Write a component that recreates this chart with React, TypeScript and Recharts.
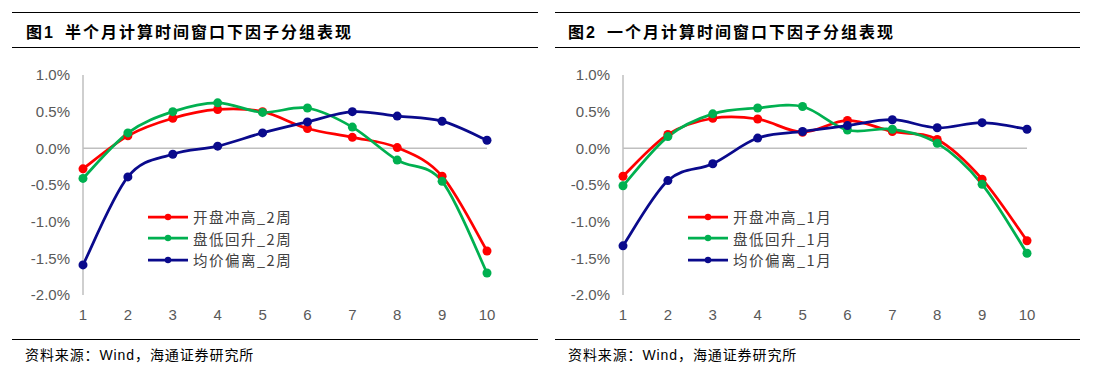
import React from "react";
import { LineChart, Line, XAxis, YAxis, ReferenceLine, Legend } from "recharts";

const groups = ["1", "2", "3", "4", "5", "6", "7", "8", "9", "10"];
const yTicks = [-0.02, -0.015, -0.01, -0.005, 0, 0.005, 0.01];

// 图1：半个月窗口
const openHigh2w = [-0.28, 0.17, 0.41, 0.53, 0.5, 0.27, 0.15, 0.01, -0.38, -1.4];
const lowRise2w = [-0.41, 0.21, 0.5, 0.62, 0.49, 0.55, 0.29, -0.16, -0.45, -1.7];
const avgDev2w = [-1.59, -0.39, -0.08, 0.03, 0.21, 0.36, 0.5, 0.44, 0.37, 0.11];

// 图2：一个月窗口
const openHigh1m = [-0.38, 0.19, 0.41, 0.4, 0.22, 0.38, 0.23, 0.12, -0.42, -1.26];
const lowRise1m = [-0.51, 0.16, 0.47, 0.55, 0.57, 0.25, 0.26, 0.07, -0.49, -1.43];
const avgDev1m = [-1.33, -0.44, -0.21, 0.14, 0.23, 0.31, 0.39, 0.28, 0.35, 0.26];

const COLORS = { red: "#FF0000", green: "#00B050", blue: "#0A0A8C" };

// Excel 风格平滑曲线（Catmull-Rom）
function smoothCurve(context: any) {
  let pts: number[][] = [];
  return {
    areaStart() {},
    areaEnd() {},
    lineStart() {
      pts = [];
    },
    point(x: number, y: number) {
      pts.push([+x, +y]);
    },
    lineEnd() {
      const n = pts.length;
      if (!n) return;
      context.moveTo(pts[0][0], pts[0][1]);
      for (let i = 0; i < n - 1; i++) {
        const p0 = pts[i - 1] || pts[i];
        const p1 = pts[i];
        const p2 = pts[i + 1];
        const p3 = pts[i + 2] || p2;
        context.bezierCurveTo(
          p1[0] + (p2[0] - p0[0]) / 6,
          p1[1] + (p2[1] - p0[1]) / 6,
          p2[0] - (p3[0] - p1[0]) / 6,
          p2[1] - (p3[1] - p1[1]) / 6,
          p2[0],
          p2[1]
        );
      }
    },
  };
}

type Series = { key: string; name: string; color: string; values: number[] };

function LegendBox({ series }: { series: Series[] }) {
  return (
    <div>
      {series.map((s) => (
        <div key={s.key} style={{ display: "flex", alignItems: "center", height: 21.5 }}>
          <svg width={45} height={10}>
            <line x1={0} y1={5} x2={40} y2={5} stroke={s.color} strokeWidth={2.75} />
            <circle cx={20} cy={5} r={3.2} fill={s.color} />
          </svg>
          <span
            style={{
              fontFamily: "'Noto Sans CJK SC', sans-serif",
              fontSize: 14.5,
              color: "#404040",
              letterSpacing: 1.5,
              whiteSpace: "nowrap",
            }}
          >
            {s.name}
          </span>
        </div>
      ))}
    </div>
  );
}

function Panel({ left, titleLeft, title, series }: { left: number; titleLeft: number; title: React.ReactNode; series: Series[] }) {
  const data = groups.map((g, i) => {
    const row: any = { g };
    series.forEach((s) => (row[s.key] = s.values[i] / 100));
    return row;
  });
  return (
    <div style={{ position: "absolute", left, top: 0, width: 548, height: 375 }}>
      <div style={{ position: "absolute", left: titleLeft, top: 19 }}>{title}</div>
      <div style={{ position: "absolute", left: 0, top: 0 }}>
        <LineChart width={548} height={340} data={data} margin={{ top: 75, right: 61, left: 33, bottom: 15 }}>
          <XAxis
            dataKey="g"
            axisLine={false}
            tickLine={false}
            tickMargin={8}
            height={30}
            interval={0}
            tick={{ fill: "#595959", fontSize: 15, fontFamily: "'Liberation Sans Narrow', 'Liberation Sans', Arial" }}
          />
          <YAxis
            domain={[-0.02, 0.01]}
            ticks={yTicks}
            width={50}
            tickLine={false}
            tickMargin={7}
            axisLine={{ stroke: "#BFBFBF", strokeWidth: 1.5 }}
            tickFormatter={(v: number) => (v * 100).toFixed(1) + "%"}
            tick={{ fill: "#595959", fontSize: 15, fontFamily: "'Liberation Sans', Arial" }}
          />
          <ReferenceLine y={0} stroke="#BFBFBF" strokeWidth={1.5} />
          <Legend
            layout="horizontal"
            align="center"
            verticalAlign="middle"
            content={() => <LegendBox series={series} />}
            wrapperStyle={{ left: 148, top: 206, width: 200 }}
          />
          {series.map((s) => (
            <Line
              key={s.key}
              dataKey={s.key}
              name={s.name}
              stroke={s.color}
              strokeWidth={2.75}
              type={smoothCurve as any}
              dot={{ r: 4.5, fill: s.color, stroke: s.color, strokeWidth: 0 }}
              isAnimationActive={false}
            />
          ))}
        </LineChart>
      </div>
    </div>
  );
}

function Title({ num, text }: { num: string; text: string }) {
  return (
    <div
      style={{
        fontFamily: "'Noto Sans CJK SC', sans-serif",
        fontWeight: 700,
        fontSize: 16,
        color: "#000",
        letterSpacing: 2,
        whiteSpace: "nowrap",
      }}
    >
      图<span style={{ fontFamily: "'Liberation Sans', Arial" }}>{num}</span>
      <span style={{ marginLeft: 10 }}>{text}</span>
    </div>
  );
}

const rule = (x: number, y: number, w: number) => (
  <div style={{ position: "absolute", left: x, top: y, width: w, height: 1.5, background: "#000" }} />
);

export default function App() {
  const left: Series[] = [
    { key: "a", name: "开盘冲高_2周", color: COLORS.red, values: openHigh2w },
    { key: "b", name: "盘低回升_2周", color: COLORS.green, values: lowRise2w },
    { key: "c", name: "均价偏离_2周", color: COLORS.blue, values: avgDev2w },
  ];
  const right: Series[] = [
    { key: "a", name: "开盘冲高_1月", color: COLORS.red, values: openHigh1m },
    { key: "b", name: "盘低回升_1月", color: COLORS.green, values: lowRise1m },
    { key: "c", name: "均价偏离_1月", color: COLORS.blue, values: avgDev1m },
  ];
  const source = (x: number) => (
    <div
      style={{
        position: "absolute",
        left: x,
        top: 344,
        fontFamily: "'Noto Sans CJK SC', sans-serif",
        fontSize: 14,
        color: "#000",
        letterSpacing: 0.9,
        whiteSpace: "nowrap",
      }}
    >
      资料来源：<span style={{ fontFamily: "'Liberation Sans', Arial" }}>Wind</span>，海通证券研究所
    </div>
  );
  return (
    <div style={{ position: "absolute", left: 0, top: 0, width: 1097, height: 375, background: "#fff", overflow: "hidden" }}>
      <Panel left={0} titleLeft={26} title={<Title num="1" text="半个月计算时间窗口下因子分组表现" />} series={left} />
      <Panel left={540} titleLeft={28} title={<Title num="2" text="一个月计算时间窗口下因子分组表现" />} series={right} />
      {rule(12, 11.5, 526)}
      {rule(12, 46.5, 526)}
      {rule(12, 338.5, 526)}
      {rule(555, 11.5, 525)}
      {rule(555, 46.5, 525)}
      {rule(555, 338.5, 525)}
      {source(25)}
      {source(568)}
    </div>
  );
}
